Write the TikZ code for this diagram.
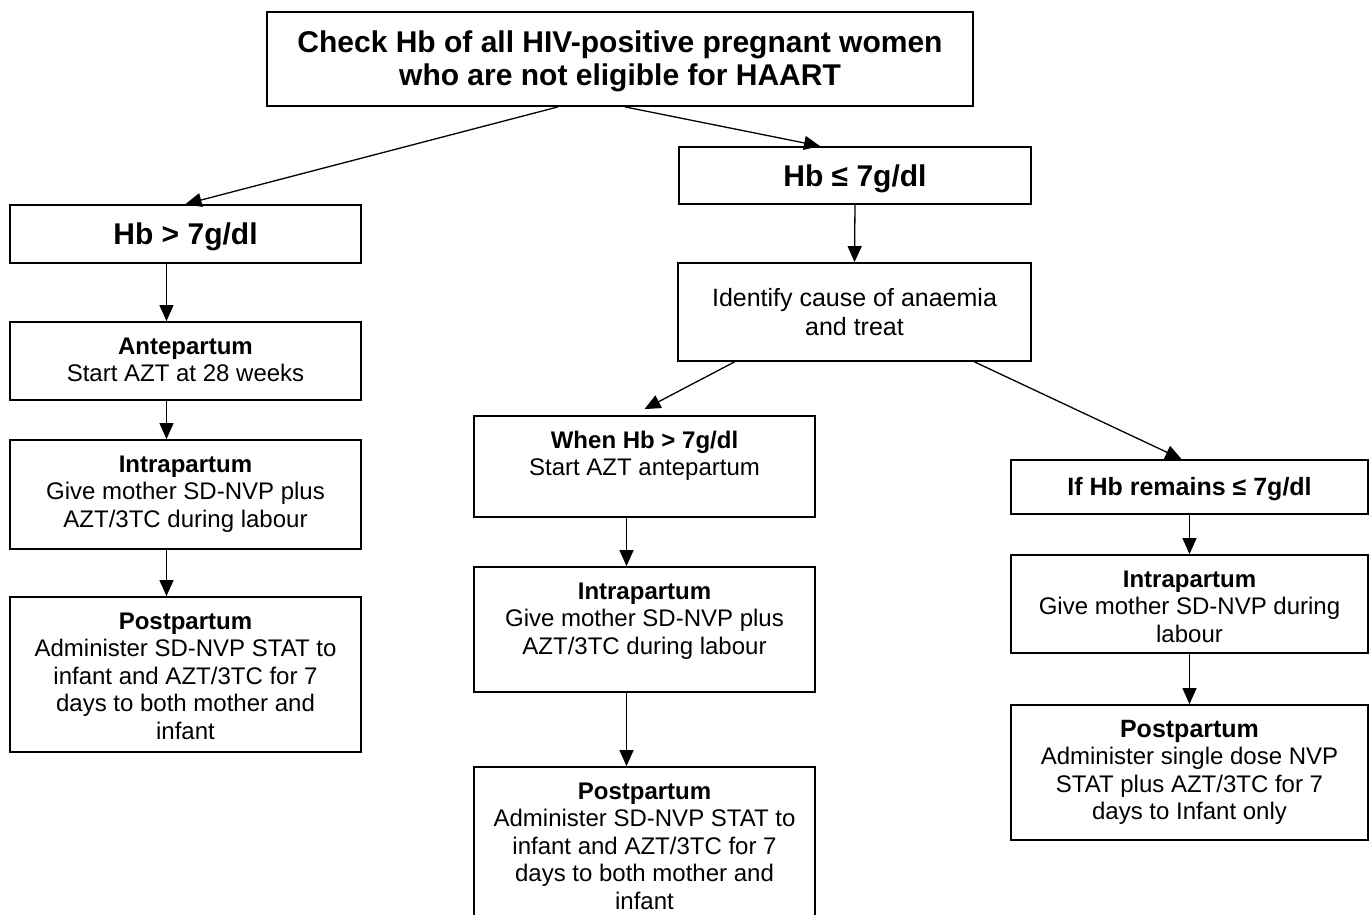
\documentclass[tikz,border=0pt]{standalone}
\usepackage{fontspec}
\setmainfont{Liberation Sans}
\usetikzlibrary{arrows.meta}
% text of a stage box, set from the top of the box
\newcommand{\stagetext}[3]{\parbox[c][#1][t]{#2}{\centering\rule{0pt}{16pt}#3}}
\begin{document}
\begin{tikzpicture}[x=0.5pt,y=-0.5pt,
    box/.style={draw, line width=0.9pt, inner sep=0pt, align=center,
      font=\fontsize{12}{13.75}\selectfont},
    headbox/.style={box, font=\bfseries\fontsize{15}{16.5}\selectfont},
    arrow/.style={-{Triangle[length=8pt,width=7pt]}, line width=0.65pt}]
    \useasboundingbox (0,0) rectangle (1370,915);
    \clip (0,0) rectangle (1370,915);
    \fill[white] (0,0) rectangle (1370,915);
    % top of the chart
    \node[headbox, minimum width=353pt, minimum height=47pt] (check) at (620,59)
        {\rule{0pt}{13pt}Check Hb of all HIV-positive pregnant women\\who are not eligible for HAART};
    \node[headbox, minimum width=175.5pt, minimum height=29pt] (hbhigh) at (185.5,234) {\rule{0pt}{14pt}Hb > 7g/dl};
    \node[headbox, minimum width=176pt, minimum height=28.5pt] (hblow) at (855,175.5) {\rule{0pt}{14pt}Hb ≤ 7g/dl};
    % left column
    \node[box] (ante) at (185.5,361)
        {\stagetext{39pt}{175.5pt}{\textbf{Antepartum}\\Start AZT at 28 weeks}};
    \node[box] (intraA) at (185.5,494.5)
        {\stagetext{54.5pt}{175.5pt}{\textbf{Intrapartum}\\Give mother SD-NVP plus\\AZT/3TC during labour}};
    \node[box] (postA) at (185.5,674.5)
        {\stagetext{77.5pt}{175.5pt}{\textbf{Postpartum}\\Administer SD-NVP STAT to\\infant and AZT/3TC for 7\\days to both mother and\\infant}};
    % right side
    \node[box, minimum width=176.5pt, minimum height=49pt, font=\fontsize{12.5}{14.25}\selectfont] (cause) at (854.5,312)
        {Identify cause of anaemia\\and treat};
    \node[box] (whenhb) at (644.5,466.5)
        {\stagetext{50.5pt}{170.5pt}{\textbf{When Hb > 7g/dl}\\Start AZT antepartum}};
    \node[box] (intraB) at (644.5,629.5)
        {\stagetext{62.5pt}{170.5pt}{\textbf{Intrapartum}\\Give mother SD-NVP plus\\AZT/3TC during labour}};
    \node[box] (postB) at (644.5,846)
        {\stagetext{79pt}{170.5pt}{\textbf{Postpartum}\\Administer SD-NVP STAT to\\infant and AZT/3TC for 7\\days to both mother and\\infant}};
    \node[box, minimum width=178.5pt, minimum height=27pt, font=\bfseries\fontsize{12.5}{14}\selectfont] (remains) at (1189.5,487)
        {\rule{0pt}{11.5pt}If Hb remains ≤ 7g/dl};
    \node[box] (intraC) at (1189.5,604)
        {\stagetext{49pt}{178.5pt}{\textbf{Intrapartum}\\Give mother SD-NVP during\\labour}};
    \node[box] (postC) at (1189.5,772.5)
        {\stagetext{67.5pt}{178.5pt}{{\fontsize{12.5}{13.75}\selectfont\textbf{Postpartum}}\\Administer single dose NVP\\STAT plus AZT/3TC for 7\\days to Infant only}};
    % connectors
    \draw[arrow] ([xshift=-31pt]check.south) -- (hbhigh.north);
    \draw[arrow] ([xshift=2.5pt]check.south) -- ([xshift=-17.5pt]hblow.north);
    \draw[arrow] ([xshift=-9.5pt]hbhigh.south) -- ([xshift=-9.5pt]ante.north);
    \draw[arrow] ([xshift=-9.5pt]ante.south) -- ([xshift=-9.5pt]intraA.north);
    \draw[arrow] ([xshift=-9.5pt]intraA.south) -- ([xshift=-9.5pt]postA.north);
    \draw[arrow] (hblow.south) -- (cause.north);
    \draw[arrow] ([xshift=-60pt]cause.south) -- ([yshift=3pt]whenhb.north);
    \draw[arrow] ([xshift=60pt]cause.south) -- ([xshift=-4pt]remains.north);
    \draw[arrow] ([xshift=-9pt]whenhb.south) -- ([xshift=-9pt]intraB.north);
    \draw[arrow] ([xshift=-9pt]intraB.south) -- ([xshift=-9pt]postB.north);
    \draw[arrow] (remains.south) -- (intraC.north);
    \draw[arrow] (intraC.south) -- (postC.north);
\end{tikzpicture}
\end{document}
